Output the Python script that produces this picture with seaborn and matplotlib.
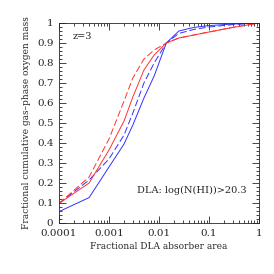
import numpy as np
import pandas as pd
import matplotlib
matplotlib.use("Agg")
import matplotlib.pyplot as plt
import seaborn as sns
from matplotlib.ticker import LogLocator, MultipleLocator, FixedLocator, NullFormatter

# fractional DLA absorber area (x) and cumulative oxygen mass (y) for each curve
area = [1e-4, 4e-4, 1e-3, 2e-3, 3e-3, 5e-3, 8e-3, 1.4e-2, 2.5e-2, 5e-2, 0.1, 0.3, 1.0]
blue_solid = [0.057, 0.127, 0.28, 0.395, 0.49, 0.625, 0.735, 0.90, 0.96, 0.978, 0.987, 0.995, 1.0]
blue_dashed = [0.098, 0.215, 0.32, 0.44, 0.55, 0.70, 0.80, 0.90, 0.948, 0.968, 0.98, 0.992, 1.0]
red_solid = [0.098, 0.20, 0.365, 0.51, 0.63, 0.765, 0.84, 0.90, 0.925, 0.94, 0.955, 0.978, 1.0]
red_dashed = [0.098, 0.23, 0.42, 0.61, 0.725, 0.82, 0.865, 0.90, 0.925, 0.94, 0.955, 0.978, 1.0]

x_ticks = [1e-4, 1e-3, 1e-2, 0.1, 1]
x_labels = ["0.0001", "0.001", "0.01", "0.1", "1"]
y_ticks = [0, 0.1, 0.2, 0.3, 0.4, 0.5, 0.6, 0.7, 0.8, 0.9, 1.0]
y_labels = ["0", "0.1", "0.2", "0.3", "0.4", "0.5", "0.6", "0.7", "0.8", "0.9", "1"]

curves = {
    "blue_solid": (blue_solid, "#3030ff", None),
    "blue_dashed": (blue_dashed, "#3030ff", (7, 3)),
    "red_solid": (red_solid, "#ff3030", None),
    "red_dashed": (red_dashed, "#ff3030", (7, 3)),
}

sns.set_style("ticks")
plt.rcParams["font.family"] = ["DejaVu Serif"]

fig = plt.figure(figsize=(2.74, 2.74), dpi=100)
ax = fig.add_axes([59 / 274, 51 / 274, 200 / 274, 200 / 274])

for name, (vals, color, dash) in curves.items():
    df = pd.DataFrame({"area": area, "mass": vals})
    sns.lineplot(data=df, x="area", y="mass", color=color, lw=0.7, ax=ax)
    if dash is not None:
        ax.lines[-1].set_dashes(dash)

ax.set_xscale("log")
ax.set_xlim(1e-4, 1)
ax.set_ylim(0, 1)

ax.xaxis.set_major_locator(FixedLocator(x_ticks))
ax.set_xticklabels(x_labels)
ax.xaxis.set_minor_locator(LogLocator(base=10, subs=np.arange(2, 10), numticks=20))
ax.xaxis.set_minor_formatter(NullFormatter())
ax.yaxis.set_major_locator(FixedLocator(y_ticks))
ax.set_yticklabels(y_labels)
ax.yaxis.set_minor_locator(MultipleLocator(0.02))

ax.tick_params(which="both", direction="in", top=True, right=True, width=0.6, labelsize=7.5)
ax.tick_params(which="major", length=5, pad=4)
ax.tick_params(which="minor", length=2.5)
for s in ax.spines.values():
    s.set_linewidth(0.6)

ax.set_xlabel("Fractional DLA absorber area", fontsize=6.5, labelpad=3)
ax.set_ylabel("Fractional cumulative gas\u2013phase oxygen mass", fontsize=6.5, labelpad=4)

ax.text(1.9e-4, 0.92, "z=3", fontsize=7)
ax.text(0.0036, 0.15, "DLA: log(N(HI))>20.3", fontsize=7)

fig.savefig("out.png", dpi=100)
